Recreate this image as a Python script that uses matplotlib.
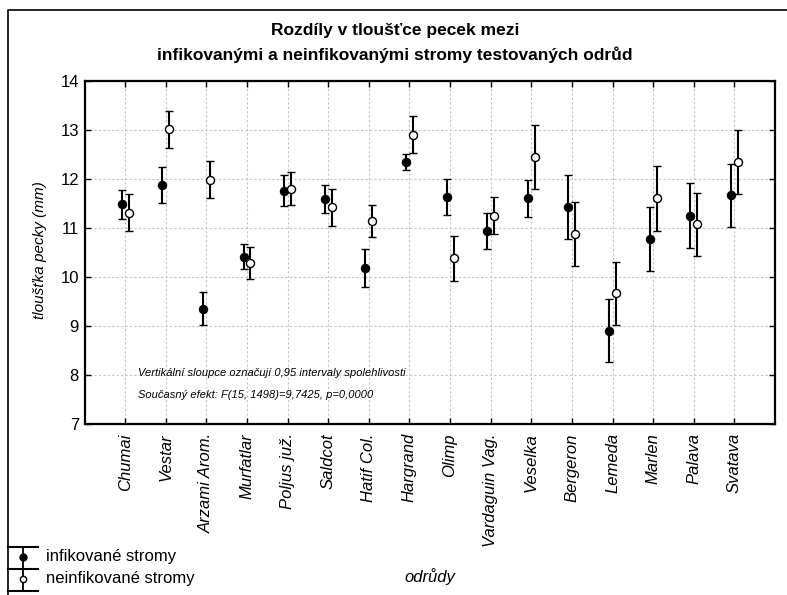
import numpy as np
import matplotlib
matplotlib.use('Agg')
import matplotlib.pyplot as plt

plt.rcParams['font.family'] = ['Liberation Sans', 'DejaVu Sans']

# Varieties and pit thickness (mean, 95% CI half-width) in mm
odrudy = ['Chumai', 'Vestar', 'Arzami Arom.', 'Murfatlar', 'Poljus juž.', 'Saldcot',
          'Hatif Col.', 'Hargrand', 'Olimp', 'Vardaguin Vag.', 'Veselka', 'Bergeron',
          'Lemeda', 'Marlen', 'Palava', 'Svatava']

infik_mean = [11.48, 11.87, 9.35, 10.41, 11.76, 11.59, 10.18, 12.35,
              11.63, 10.93, 11.60, 11.42, 8.90, 10.77, 11.25, 11.66]
infik_ci = [0.30, 0.37, 0.33, 0.25, 0.32, 0.29, 0.38, 0.16,
            0.37, 0.37, 0.37, 0.65, 0.65, 0.66, 0.66, 0.65]

neinfik_mean = [11.31, 13.01, 11.98, 10.28, 11.80, 11.42, 11.14, 12.90,
                10.38, 11.25, 12.45, 10.87, 9.66, 11.60, 11.07, 12.35]
neinfik_ci = [0.38, 0.38, 0.38, 0.33, 0.33, 0.38, 0.33, 0.38,
              0.46, 0.38, 0.65, 0.66, 0.65, 0.66, 0.65, 0.65]

W, H = 787, 595
fig = plt.figure(figsize=(W / 100, H / 100), dpi=100)
ax = fig.add_axes([84.5 / W, 1 - 423.5 / H, (775 - 84.5) / W, (423.5 - 81) / H])

x = np.arange(1, len(odrudy) + 1)
off = 0.085

ax.errorbar(x - off, infik_mean, yerr=infik_ci, fmt='o', color='black',
            mfc='black', mec='black', ms=5.8, mew=1, elinewidth=1.5,
            capsize=2.7, capthick=1.5, zorder=3)
ax.errorbar(x + off, neinfik_mean, yerr=neinfik_ci, fmt='o', color='black',
            mfc='white', mec='black', ms=5.8, mew=1, elinewidth=1.5,
            capsize=2.7, capthick=1.5, zorder=4)

ax.set_xlim(0, len(odrudy) + 1)
ax.set_ylim(7, 14)
ax.set_yticks(range(7, 15))
ax.set_xticks(x)
ax.set_xticklabels(odrudy, rotation=90, fontstyle='italic', fontsize=12)
ax.tick_params(axis='y', labelsize=12)
ax.tick_params(direction='in', length=4, width=1, top=True, right=True, pad=7)
ax.tick_params(axis='y', pad=4)
ax.grid(True, color='#c4c4c4', linestyle=(0, (2, 2)), linewidth=0.8)
for s in ax.spines.values():
    s.set_linewidth(1.6)

ax.text(0.077, 0.148, 'Vertikální sloupce označují 0,95 intervaly spolehlivosti',
        transform=ax.transAxes, fontsize=8, fontstyle='italic', va='center')
ax.text(0.077, 0.083, 'Současný efekt: F(15, 1498)=9,7425, p=0,0000',
        transform=ax.transAxes, fontsize=8, fontstyle='italic', va='center')

# Title and axis captions
fig.text(395 / W, 1 - 31 / H, 'Rozdíly v tloušťce pecek mezi', ha='center', va='center',
         fontsize=12.5, fontweight='bold')
fig.text(395 / W, 1 - 55 / H, 'infikovanými a neinfikovanými stromy testovaných odrůd',
         ha='center', va='center', fontsize=12.5, fontweight='bold')
fig.text(40 / W, 1 - 250 / H, 'tloušťka pecky (mm)', rotation=90, ha='center', va='center',
         fontsize=11, fontstyle='italic')
fig.text(430 / W, 1 - 577 / H, 'odrůdy', ha='center', va='center',
         fontsize=12, fontstyle='italic')

# Frame and legend drawn in pixel coordinates
ov = fig.add_axes([0, 0, 1, 1], zorder=-1)
ov.set_xlim(0, W)
ov.set_ylim(H, 0)
ov.axis('off')
ov.plot([8, 8, W], [H, 10, 10], color='black', lw=1.2)

leg_rows = [546.7, 569.3, 591.0]
for yy in leg_rows:
    ov.plot([8, 38], [yy, yy], color='black', lw=1.5)
ov.plot([22.7, 22.7], [leg_rows[0], leg_rows[1]], color='black', lw=1.3)
ov.plot([22.7, 22.7], [leg_rows[1], leg_rows[2]], color='black', lw=1.3)
ov.plot([22.7], [556.7], 'o', color='black', ms=5)
ov.plot([22.7], [579.0], 'o', mfc='white', mec='black', ms=4.5, mew=1)
ov.text(46, 556.7, 'infikované stromy', fontsize=12, va='center')
ov.text(46, 579.0, 'neinfikované stromy', fontsize=12, va='center')

fig.savefig('out.png', dpi=100)
